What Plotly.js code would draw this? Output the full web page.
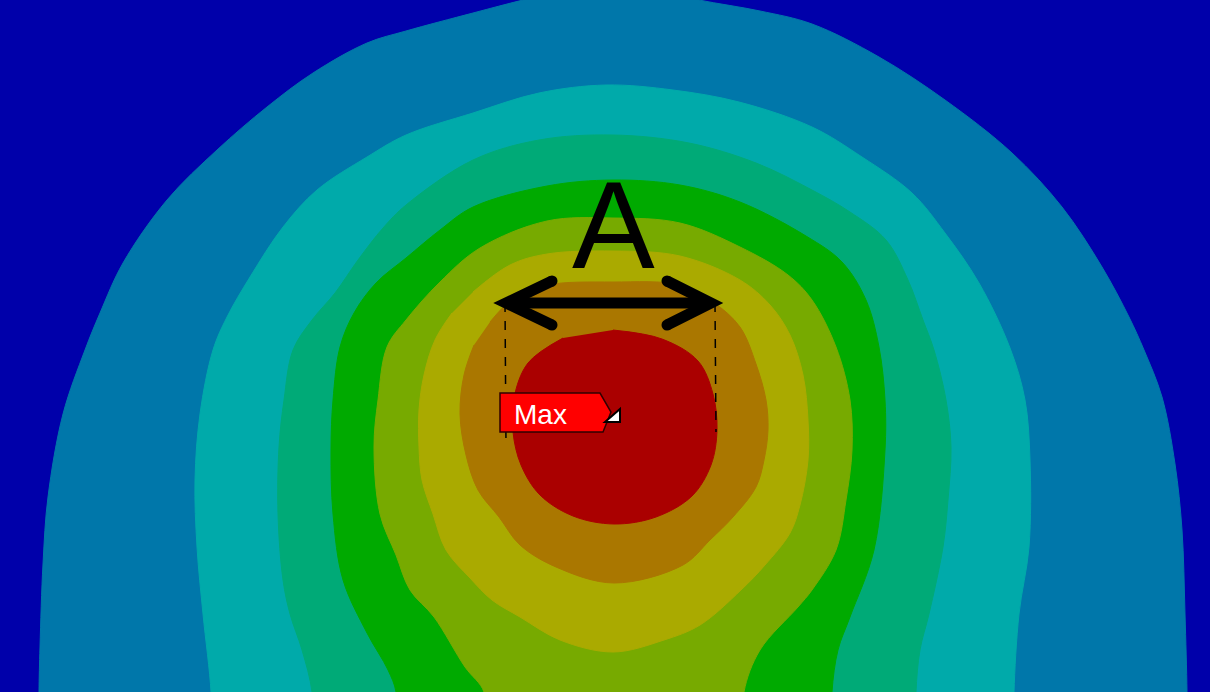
<!DOCTYPE html>
<html>
<head>
<meta charset="utf-8">
<script src="https://cdn.plot.ly/plotly-3.0.1.min.js"></script>
<style>
  html, body { margin: 0; padding: 0; background: #ffffff; }
  #plot { width: 1218px; height: 697px; }
</style>
</head>
<body>
<div id="plot"></div>
<script>
// Contour band colours, from the lowest level (outside) to the highest (centre)
const bandColors = ['#0000AA', '#0077AA', '#00AAAA', '#00AA77', '#00AA00', '#77AA00', '#AAAA00', '#AA7700', '#AA0000'];

// Outer edge of each contour band, in model coordinates (x across, y downward)
const band1X = [39, 39, 40, 43, 48, 63, 85, 100, 123, 167, 217, 267, 313, 367, 406, 473, 523, 566, 611, 656, 699, 760, 812, 879, 945, 1012, 1062, 1102, 1129, 1144, 1162, 1175, 1182, 1185, 1187, 1187];
const band1Y = [730, 692, 647, 564, 497, 414, 350, 313, 263, 200, 150, 107, 73, 43, 31, 13, 0, -10, -13, -10, 0, 11, 24, 57, 100, 153, 207, 267, 317, 350, 397, 464, 530, 614, 692, 730];

const band2X = [211, 211, 203, 197, 195, 200, 213, 227, 250, 283, 317, 367, 406, 473, 539, 606, 673, 739, 812, 862, 912, 945, 979, 1010, 1025, 1030, 1029, 1019, 1014, 1014];
const band2Y = [730, 692, 614, 547, 480, 414, 350, 317, 277, 227, 190, 157, 135, 113, 93, 85, 90, 102, 127, 157, 193, 233, 283, 348, 400, 460, 547, 614, 692, 730];

const band3X = [312, 312, 302, 290, 283, 278, 279, 284, 293, 312, 335, 358, 383, 406, 473, 539, 613, 689, 756, 812, 850, 886, 908, 923, 934, 946, 951, 948, 943, 929, 920, 916, 916];
const band3Y = [730, 692, 650, 614, 580, 514, 447, 400, 350, 320, 293, 260, 228, 205, 160, 140, 135, 143, 163, 190, 212, 240, 280, 320, 350, 400, 447, 500, 547, 614, 650, 692, 730];

const band4X = [396, 396, 388, 367, 343, 333, 331, 333, 340, 354, 376, 406, 440, 473, 547, 613, 680, 740, 806, 842, 866, 879, 885, 885, 874, 850, 838, 832, 832];
const band4Y = [730, 692, 670, 633, 580, 514, 450, 400, 347, 313, 283, 258, 230, 207, 186, 180, 185, 202, 236, 262, 300, 347, 400, 450, 550, 617, 650, 692, 730];

const band5X = [484, 484, 465, 434, 410, 396, 380, 374, 378, 387, 406, 440, 480, 547, 613, 680, 740, 788, 812, 836, 850, 852, 846, 836, 812, 798, 760, 744, 744];
const band5Y = [730, 692, 667, 617, 590, 555, 514, 447, 400, 347, 320, 282, 248, 221, 218, 223, 247, 275, 300, 347, 400, 450, 500, 550, 590, 607, 650, 692, 730];

const band6X = [473, 510, 547, 613, 680, 740, 770, 790, 803, 808, 808, 800, 790, 765, 741, 700, 664, 613, 560, 520, 492, 470, 446, 433, 422, 419, 419, 424, 435, 452];
const band6Y = [292, 265, 254, 251, 256, 280, 305, 335, 375, 420, 460, 505, 533, 565, 590, 625, 640, 652, 640, 617, 600, 578, 550, 514, 480, 447, 410, 375, 340, 313];

const band7X = [490, 515, 547, 613, 680, 713, 740, 756, 766, 768, 764, 756, 733, 710, 683, 614, 556, 520, 499, 478, 466, 460, 464, 474];
const band7Y = [322, 297, 285, 282, 285, 302, 327, 364, 400, 430, 460, 487, 517, 540, 565, 583, 567, 545, 517, 490, 455, 414, 375, 345];

const band8X = [613, 662, 698, 713, 717, 711, 692, 656, 614, 573, 540, 521, 513, 514, 528, 563];
const band8Y = [330, 339, 361, 394, 430, 465, 496, 517, 524, 516, 495, 465, 432, 398, 363, 338];

const bandXs = [band1X, band2X, band3X, band4X, band5X, band6X, band7X, band8X];
const bandYs = [band1Y, band2Y, band3Y, band4Y, band5Y, band6Y, band7Y, band8Y];

// Each band is a filled, smoothed region stacked on top of the previous, lower one
const traces = bandXs.map((xs, i) => ({
  type: 'scatter',
  mode: 'lines',
  x: xs,
  y: bandYs[i],
  fill: 'toself',
  fillcolor: bandColors[i + 1],
  line: { width: 1, shape: 'spline', smoothing: 1, color: bandColors[i + 1] },
  hoverinfo: 'skip',
  showlegend: false
}));

const black = '#000000';
const armW = 11;

// round ends for the arrow strokes
function cap(cx, cy) {
  const r = armW / 2;
  return { type: 'circle', xref: 'x', yref: 'y', x0: cx - r, x1: cx + r, y0: cy - r, y1: cy + r,
           fillcolor: black, line: { width: 0 } };
}

const shapes = [
  // dimension extension lines
  { type: 'line', xref: 'x', yref: 'y', x0: 505, y0: 303, x1: 506, y1: 447,
    line: { color: black, width: 1.5, dash: 'dash' } },
  { type: 'line', xref: 'x', yref: 'y', x0: 715, y0: 303, x1: 716, y1: 432,
    line: { color: black, width: 1.5, dash: 'dash' } },
  // double-headed dimension arrow
  { type: 'path', xref: 'x', yref: 'y', path: 'M 507 303 L 710 303',
    line: { color: black, width: armW } },
  { type: 'path', xref: 'x', yref: 'y', path: 'M 552 281 L 506 303 L 552 325',
    line: { color: black, width: armW } },
  { type: 'path', xref: 'x', yref: 'y', path: 'M 667 281 L 711 303 L 667 325',
    line: { color: black, width: armW } },
  cap(552, 281), cap(552, 325), cap(667, 281), cap(667, 325),
  // "Max" probe tag
  { type: 'path', xref: 'x', yref: 'y', path: 'M 500 393 L 600 393 L 611 412 L 603 432 L 500 432 Z',
    fillcolor: '#FF0000', line: { color: '#300000', width: 1.5 } },
  { type: 'path', xref: 'x', yref: 'y', path: 'M 605 422 L 620 409 L 620 422 Z',
    fillcolor: '#FFFFFF', line: { color: black, width: 2 } }
];

const annotations = [
  { x: 613, y: 225, xref: 'x', yref: 'y', text: 'A', showarrow: false,
    xanchor: 'center', yanchor: 'middle',
    font: { family: 'Liberation Sans, Arial, sans-serif', size: 124, color: black } },
  { x: 540, y: 414, xref: 'x', yref: 'y', text: 'Max', showarrow: false,
    xanchor: 'center', yanchor: 'middle',
    font: { family: 'Liberation Sans, Arial, sans-serif', size: 28, color: '#FFFFFF' } }
];

const layout = {
  width: 1218,
  height: 697,
  margin: { l: 0, r: 8, t: 0, b: 5, pad: 0 },
  paper_bgcolor: '#FFFFFF',
  plot_bgcolor: bandColors[0],
  xaxis: { range: [0, 1210], visible: false, fixedrange: true },
  yaxis: { range: [692, 0], visible: false, fixedrange: true },
  showlegend: false,
  hovermode: false,
  shapes: shapes,
  annotations: annotations
};

Plotly.newPlot('plot', traces, layout, { displayModeBar: false, staticPlot: true });
</script>
</body>
</html>
